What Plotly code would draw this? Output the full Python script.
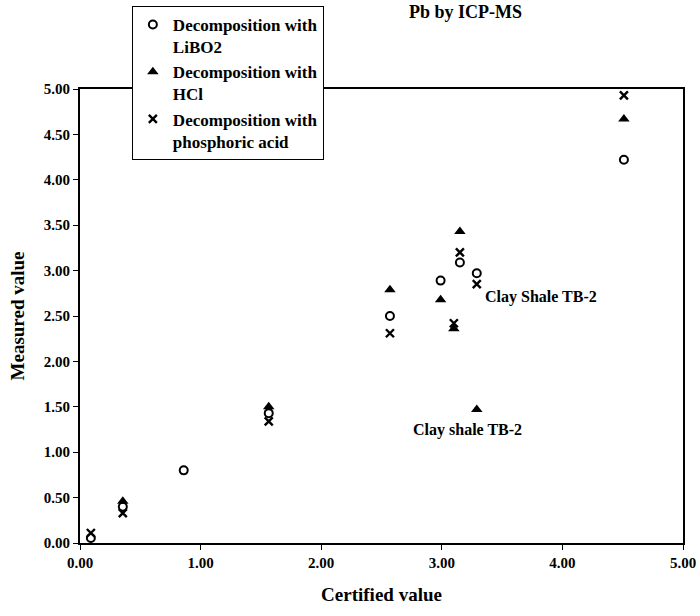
import plotly.graph_objects as go

# Data
libo2_x = [0.09, 0.355, 0.86, 1.565, 2.57, 2.99, 3.15, 3.29, 4.51]
libo2_y = [0.055, 0.40, 0.80, 1.43, 2.50, 2.89, 3.09, 2.97, 4.22]

hcl_x = [0.355, 1.565, 2.57, 2.99, 3.10, 3.15, 3.29, 4.51]
hcl_y = [0.46, 1.50, 2.79, 2.68, 2.36, 3.43, 1.47, 4.67]

phos_x = [0.09, 0.355, 1.565, 2.57, 3.10, 3.15, 3.29, 4.51]
phos_y = [0.11, 0.33, 1.34, 2.31, 2.42, 3.20, 2.85, 4.93]

series_names = ["Decomposition with<br>LiBO2",
                "Decomposition with<br>HCl",
                "Decomposition with<br>phosphoric acid"]

FONT = "Liberation Serif, Times New Roman, serif"

fig = go.Figure()
fig.add_trace(go.Scatter(x=libo2_x, y=libo2_y, mode="markers", name=series_names[0],
                         marker=dict(symbol="circle-open", size=8, color="black",
                                     line=dict(width=2, color="black"))))
fig.add_trace(go.Scatter(x=hcl_x, y=hcl_y, mode="markers", name=series_names[1],
                         marker=dict(symbol="triangle-up", size=10, color="black")))
fig.add_trace(go.Scatter(x=phos_x, y=phos_y, mode="markers", name=series_names[2],
                         marker=dict(symbol="x-thin", size=8, color="black",
                                     line=dict(width=2.4, color="black"))))

fig.add_annotation(x=3.34, y=2.71, text="Clay Shale TB-2", showarrow=False,
                   xanchor="left", yanchor="middle",
                   font=dict(family=FONT, size=16, color="black", weight="bold"))
fig.add_annotation(x=3.21, y=1.245, text="Clay shale TB-2", showarrow=False,
                   xanchor="center", yanchor="middle",
                   font=dict(family=FONT, size=16, color="black", weight="bold"))
fig.add_annotation(xref="paper", yref="paper", x=0.639, y=1.196,
                   text="Pb by ICP-MS", showarrow=False,
                   xanchor="center", yanchor="top",
                   font=dict(family=FONT, size=18, color="black", weight="bold"))

axis_common = dict(
    showgrid=False, zeroline=False, showline=True, linecolor="black", linewidth=2,
    mirror=True, ticks="outside", ticklen=5, tickwidth=1, tickcolor="black",
    tickformat=".2f",
    tickfont=dict(family=FONT, size=15, color="black", weight="bold"),
)

fig.update_layout(
    width=700, height=616,
    margin=dict(l=80, r=17, t=89, b=73, autoexpand=False),
    paper_bgcolor="white", plot_bgcolor="white",
    font=dict(family=FONT, color="black"),
    xaxis=dict(range=[0, 5], dtick=1, tick0=0,
               title=dict(text="Certified value", standoff=18,
                          font=dict(family=FONT, size=19, color="black", weight="bold")),
               **axis_common),
    yaxis=dict(range=[0, 5], dtick=0.5, tick0=0,
               title=dict(text="Measured value", standoff=14,
                          font=dict(family=FONT, size=19, color="black", weight="bold")),
               **axis_common),
    legend=dict(x=0.086, y=1.183, xanchor="left", yanchor="top",
                bgcolor="white", bordercolor="black", borderwidth=1,
                font=dict(family=FONT, size=17, color="black", weight="bold"),
                valign="top", itemwidth=30, tracegroupgap=0),
    showlegend=True,
)

fig.write_html("out.html")
